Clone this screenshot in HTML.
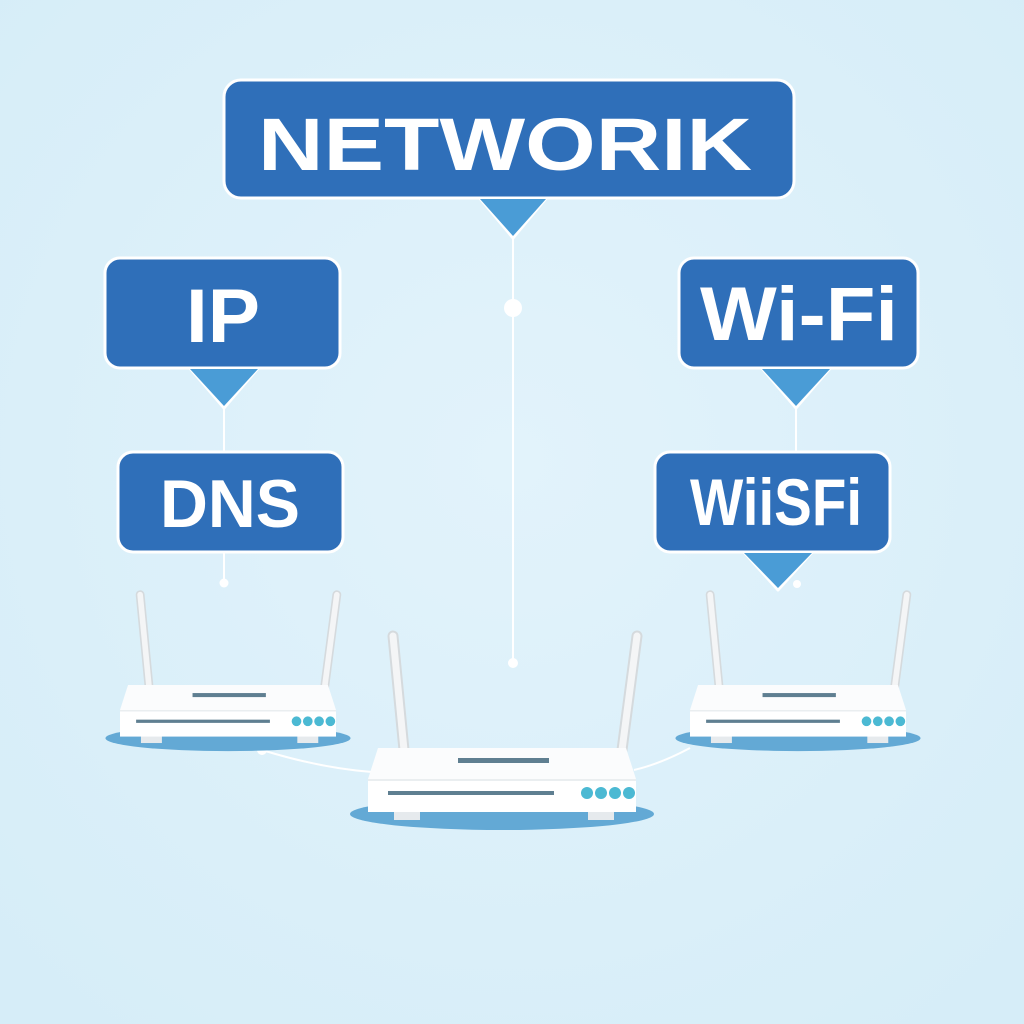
<!DOCTYPE html>
<html><head><meta charset="utf-8"><style>
html,body{margin:0;padding:0;background:#dcf0f9;}
svg{display:block}
text{font-family:"Liberation Sans",sans-serif;font-weight:bold;fill:#fff}
</style></head><body>
<svg width="1024" height="1024" viewBox="0 0 1024 1024" xmlns="http://www.w3.org/2000/svg">
<defs>
<radialGradient id="bg" cx="50%" cy="45%" r="70%">
<stop offset="0" stop-color="#e2f3fb"/><stop offset="1" stop-color="#d6edf8"/>
</radialGradient>
<g id="router">
  <line x1="-98" y1="2" x2="-109" y2="-112" stroke="#d5dadd" stroke-width="11" stroke-linecap="round"/>
  <line x1="-98" y1="2" x2="-109" y2="-112" stroke="#f4f5f6" stroke-width="7" stroke-linecap="round"/>
  <line x1="120" y1="2" x2="135" y2="-112" stroke="#d5dadd" stroke-width="11" stroke-linecap="round"/>
  <line x1="120" y1="2" x2="135" y2="-112" stroke="#f4f5f6" stroke-width="7" stroke-linecap="round"/>
  <ellipse cx="0" cy="66" rx="152" ry="16" fill="#63a9d5"/>
  <rect x="-108" y="56" width="26" height="16" fill="#e6eaed"/>
  <rect x="86" y="56" width="26" height="16" fill="#e6eaed"/>
  <path d="M-124 0 H124 L134 31 H-134 Z" fill="#fbfcfd"/>
  <rect x="-134" y="31" width="268" height="33" fill="#ffffff"/>
  <line x1="-134" y1="32" x2="134" y2="32" stroke="#e3e8ec" stroke-width="1.5"/>
  <rect x="-44" y="10" width="91" height="5" fill="#5f7f91"/>
  <rect x="-114" y="43" width="166" height="4" fill="#5f7f91"/>
  <circle cx="85" cy="45" r="6" fill="#4bb9d3"/>
  <circle cx="99" cy="45" r="6" fill="#4bb9d3"/>
  <circle cx="113" cy="45" r="6" fill="#4bb9d3"/>
  <circle cx="127" cy="45" r="6" fill="#4bb9d3"/>
</g>
</defs>
<rect width="1024" height="1024" fill="url(#bg)"/>

<g stroke="#ffffff" stroke-width="2" fill="none">
  <line x1="513" y1="236" x2="513" y2="663"/>
  <line x1="224" y1="406" x2="224" y2="454"/>
  <line x1="224" y1="552" x2="224" y2="583"/>
  <line x1="796" y1="406" x2="796" y2="454"/>
  <path d="M262 750 Q320 768 372 772"/>
  <path d="M690 748 Q660 764 634 770"/>
</g>
<circle cx="513" cy="308" r="9" fill="#fff"/>
<circle cx="513" cy="663" r="5" fill="#fff"/>
<circle cx="224" cy="583" r="4.5" fill="#fff"/>
<circle cx="797" cy="584" r="4" fill="#fff"/>
<circle cx="262" cy="750" r="5" fill="#fff"/>

<use href="#router" transform="translate(228,685) scale(0.806)"/>
<use href="#router" transform="translate(502,748)"/>
<use href="#router" transform="translate(798,685) scale(0.806)"/>

<g stroke="#ffffff" stroke-width="3" stroke-linejoin="round">
  <path d="M478 196 L513 238 L548 196 Z" fill="#4a9cd6"/>
  <rect x="224" y="80" width="570" height="118" rx="17" fill="#2f6fb9"/>
  <path d="M188 366 L224 408 L260 366 Z" fill="#4a9cd6"/>
  <rect x="105" y="258" width="235" height="110" rx="15" fill="#2f6fb9"/>
  <rect x="118" y="452" width="225" height="100" rx="15" fill="#2f6fb9"/>
  <path d="M760 366 L796 408 L832 366 Z" fill="#4a9cd6"/>
  <rect x="679" y="258" width="239" height="110" rx="15" fill="#2f6fb9"/>
  <path d="M742 550 L778 590 L814 550 Z" fill="#4a9cd6"/>
  <rect x="655" y="452" width="235" height="100" rx="15" fill="#2f6fb9"/>
</g>
<g stroke="none">
  <path d="M480 199 L513 236 L546 199 Z" fill="#4a9cd6"/>
  <path d="M190 369 L224 406 L258 369 Z" fill="#4a9cd6"/>
  <path d="M762 369 L796 406 L830 369 Z" fill="#4a9cd6"/>
  <path d="M744 553 L778 588 L812 553 Z" fill="#4a9cd6"/>
</g>

<text x="258" y="170" font-size="74" textLength="494" lengthAdjust="spacingAndGlyphs">NETWORIK</text>
<text x="186" y="342" font-size="76" textLength="74" lengthAdjust="spacingAndGlyphs">IP</text>
<text x="160" y="527" font-size="68" textLength="140" lengthAdjust="spacingAndGlyphs">DNS</text>
<text x="700" y="340" font-size="76" textLength="198" lengthAdjust="spacingAndGlyphs">Wi-Fi</text>
<text x="690" y="525" font-size="66" textLength="172" lengthAdjust="spacingAndGlyphs">WiiSFi</text>
</svg>
</body></html>
